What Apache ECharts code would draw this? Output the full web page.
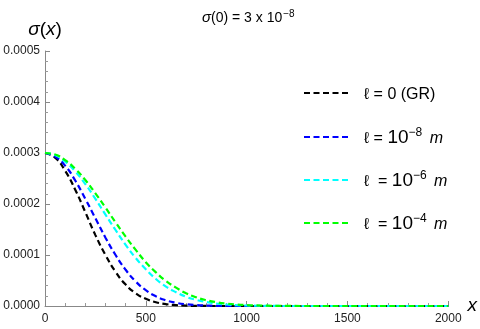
<!DOCTYPE html>
<html>
<head>
<meta charset="utf-8">
<script src="https://cdn.jsdelivr.net/npm/echarts@6/dist/echarts.min.js"></script>
<style>html,body{margin:0;padding:0;background:#fff;}#c{width:480px;height:329px;}</style>
</head>
<body>
<div id="c"></div>
<script>
const xs = [0,50,100,150,200,250,300,350,400,450,500,550,600,650,700,750,800,850,900,950,1000,1050,1100,1150,1200,1400,1600,1800,2000];
const gr   = [3.00e-4,2.91e-4,2.65e-4,2.28e-4,1.84e-4,1.39e-4,1.00e-4,0.67e-4,0.42e-4,0.25e-4,0.14e-4,0.074e-4,0.036e-4,0.017e-4,0.007e-4,0.003e-4,0.001e-4,0,0,0,0,0,0,0,0,0,0,0,0];
const l8   = [3.00e-4,2.93e-4,2.75e-4,2.46e-4,2.10e-4,1.72e-4,1.34e-4,1.00e-4,0.71e-4,0.48e-4,0.31e-4,0.19e-4,0.112e-4,0.063e-4,0.034e-4,0.018e-4,0.009e-4,0.004e-4,0.002e-4,0.001e-4,0,0,0,0,0,0,0,0,0];
const l6   = [3.00e-4,2.96e-4,2.83e-4,2.64e-4,2.39e-4,2.10e-4,1.79e-4,1.49e-4,1.20e-4,0.94e-4,0.72e-4,0.53e-4,0.38e-4,0.27e-4,0.18e-4,0.12e-4,0.078e-4,0.049e-4,0.029e-4,0.017e-4,0.010e-4,0.005e-4,0.003e-4,0.001e-4,0,0,0,0,0];
const l4   = [3.00e-4,2.97e-4,2.86e-4,2.69e-4,2.47e-4,2.21e-4,1.93e-4,1.64e-4,1.36e-4,1.10e-4,0.86e-4,0.66e-4,0.49e-4,0.36e-4,0.25e-4,0.17e-4,0.114e-4,0.075e-4,0.048e-4,0.030e-4,0.018e-4,0.011e-4,0.006e-4,0.003e-4,0.001e-4,0,0,0,0];
const seriesNames = ['GR','L8','L6','L4'];
const seriesColors = ['#000000','#0000ff','#00ffff','#00ff00'];
const seriesValues = [gr, l8, l6, l4];
const legendLabels = {
  GR: '{a|ℓ = 0 (GR)}',
  L8: '{a|ℓ = }{b|10}{s|−8}{m| m}',
  L6: '{a|ℓ  = }{b|10}{s|−6}{m| m}',
  L4: '{a|ℓ  = }{b|10}{s|−4}{m| m}'
};
const legendRows = [87, 127, 170, 213];

const FONT = '"Liberation Sans", Arial, sans-serif';
const chart = echarts.init(document.getElementById('c'));
const richLegend = {
  a: {fontFamily: FONT, fontSize: 16, color: '#000', verticalAlign: 'bottom', lineHeight: 20},
  b: {fontFamily: FONT, fontSize: 19, color: '#000', verticalAlign: 'bottom', lineHeight: 20},
  s: {fontFamily: FONT, fontSize: 12, color: '#000', verticalAlign: 'top', lineHeight: 20, padding: [0,0,10,0]},
  m: {fontFamily: FONT, fontSize: 16, fontStyle: 'italic', color: '#000', verticalAlign: 'bottom', lineHeight: 20, padding: [0,0,0,3]}
};
const option = {
  animation: false,
  backgroundColor: '#fff',
  title: {
    text: '{i|σ}{n|(0) = 3 x 10}{s|−8}',
    left: 197, top: 4,
    textStyle: {
      fontWeight: 'normal',
      rich: {
        i: {fontFamily: FONT, fontSize: 15, fontStyle: 'italic', fontWeight: 'normal', color: '#000'},
        n: {fontFamily: FONT, fontSize: 14, fontWeight: 'normal', color: '#000'},
        s: {fontFamily: FONT, fontSize: 10, fontWeight: 'normal', color: '#000', verticalAlign: 'top', padding: [0,0,8,1]}
      }
    }
  },
  legend: seriesNames.map((n, i) => ({
    data: [n],
    left: 303, top: legendRows[i],
    orient: 'vertical', padding: 0,
    itemWidth: 44, itemHeight: 14,
    selectedMode: false,
    itemStyle: {opacity: 0},
    formatter: (name) => legendLabels[name],
    textStyle: {rich: richLegend, padding: [0,0,0,11]}
  })),
  grid: {left: 45, right: 23, top: 51, bottom: 23, containLabel: false},
  xAxis: {
    type: 'value', min: 0, max: 2000, interval: 500,
    name: 'x', nameLocation: 'end', nameGap: 9,
    nameTextStyle: {fontFamily: FONT, fontSize: 19, fontStyle: 'italic', color: '#000', verticalAlign: 'middle', padding: [0,0,4,0]},
    axisLine: {lineStyle: {color: '#888', width: 1}},
    axisTick: {inside: true, length: 5, lineStyle: {color: '#888'}},
    minorTick: {show: true, splitNumber: 5, length: 3, lineStyle: {color: '#999'}},
    splitLine: {show: false},
    axisLabel: {fontFamily: FONT, fontSize: 12, color: '#222', margin: 7, formatter: (v) => String(v)}
  },
  yAxis: {
    type: 'value', min: 0, max: 0.0005, interval: 0.0001,
    name: '{i|σ}{n|(}{i|x}{n|)}', nameLocation: 'end', nameGap: 12,
    nameTextStyle: {
      rich: {
        i: {fontFamily: FONT, fontSize: 19, fontStyle: 'italic', color: '#000'},
        n: {fontFamily: FONT, fontSize: 19, color: '#000'}
      }
    },
    axisLine: {show: true, lineStyle: {color: '#888', width: 1}},
    axisTick: {show: true, inside: true, length: 5, lineStyle: {color: '#888'}},
    minorTick: {show: true, splitNumber: 5, length: 3, lineStyle: {color: '#999'}},
    splitLine: {show: false},
    axisLabel: {fontFamily: FONT, fontSize: 12, color: '#222', margin: 5, formatter: (v) => v.toFixed(4)}
  },
  series: seriesNames.map((n, i) => ({
    name: n, type: 'line', symbol: 'none', smooth: true,
    data: xs.map((x, k) => [x, seriesValues[i][k]]),
    lineStyle: {color: seriesColors[i], width: 2.2, type: [6, 3.5]},
    itemStyle: {color: seriesColors[i]},
    z: 2 + i
  }))
};
chart.setOption(option);
</script>
</body>
</html>
